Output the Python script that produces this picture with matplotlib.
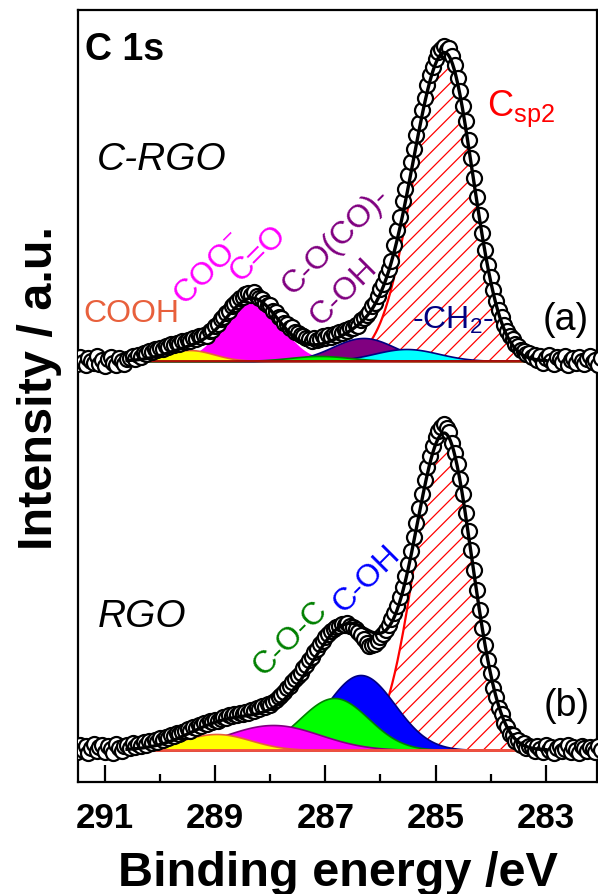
import numpy as np
import matplotlib
matplotlib.use('Agg')
import matplotlib.pyplot as plt

plt.rcParams['font.family'] = ['Liberation Sans', 'DejaVu Sans']
plt.rcParams['mathtext.fontset'] = 'custom'
plt.rcParams['mathtext.rm'] = 'Liberation Sans'
plt.rcParams['mathtext.it'] = 'Liberation Sans:italic'
plt.rcParams['mathtext.bf'] = 'Liberation Sans:bold'
plt.rcParams['hatch.linewidth'] = 0.9

# measured C 1s spectra, 0.05 eV steps starting at 291.55 eV (a.u., above each baseline)
be_start, be_step = 291.55, 0.05
top_counts = [2, -3, 4, -1, -4, 3, 0, -2, 5, -3, 1, -5, 2, 4, -2, -4, 3, 0, -3, 2,
              3, 5, 2, 6, 4, 8, 7, 10, 9, 12, 11, 13, 12, 15, 14, 17, 16, 18, 17, 20,
              19, 21, 20, 23, 22, 25, 24, 26, 25, 30, 31, 35, 37, 42, 44, 48, 50, 55, 57, 60,
              63, 64, 67, 68, 66, 69, 65, 63, 62, 58, 56, 56, 50, 49, 44, 43, 38, 37, 33, 34,
              29, 28, 26, 25, 23, 22, 20, 23, 21, 22, 25, 23, 26, 24, 27, 26, 29, 28, 31, 30,
              33, 33, 36, 35, 41, 43, 46, 49, 55, 58, 65, 72, 77, 85, 92, 100, 116, 131, 144, 160,
              172, 186, 199, 212, 226, 238, 251, 263, 276, 286, 294, 302, 309, 312, 315, 311, 313, 305, 296, 283,
              270, 255, 240, 221, 203, 183, 164, 146, 128, 111, 96, 84, 71, 60, 51, 44, 36, 30, 25, 22,
              17, 15, 11, 10, 7, 8, 4, 6, 1, 5, -2, 3, 6, 0, -3, 4, 2, -1, 5, -4,
              1, 3, -2, 4, 0, -3, 2, 5, -1, 1, -4, 3]
bot_counts = [3, -2, 5, 0, 4, -3, 2, 6, -1, 3, 5, -2, 4, 1, -3, 6, 2, -1, 4,
              5, 2, 7, 3, 6, 4, 8, 5, 9, 7, 10, 8, 12, 10, 13, 12, 15, 14, 17, 16, 18, 19,
              21, 19, 23, 22, 25, 24, 27, 26, 29, 28, 30, 29, 31, 33, 32, 35, 34, 36, 35, 37,
              36, 38, 37, 40, 39, 42, 41, 44, 43, 46, 45, 48, 50, 53, 55, 58, 62, 64, 68, 71,
              74, 77, 82, 85, 90, 93, 98, 101, 106, 109, 113, 116, 119, 121, 123, 124, 126,
              125, 127, 124, 123, 121, 118,
              115, 111, 107, 104, 105, 106, 109, 113, 116, 120, 125,
              131, 137, 144, 153, 163, 174, 186, 199, 213, 227, 242, 256, 270, 283, 294, 304, 313, 319, 323,
              326, 322, 318,
              307, 297, 286, 271, 256, 237, 219, 200, 180, 160, 140, 122, 105, 90, 77, 62, 53, 42, 36, 27,
              23, 16, 15, 9, 10, 5, 7, 2, 4,
              3, -1, 4, 1, -2, 5, 0, 3, -3, 2, 4, -1, 1, 5, -2, 3, 0, -3, 4, 2, -1, 3, 1, -2, 4, 0]

# fitted components: centre (eV), height (a.u.), FWHM on the high / low BE side (eV)
# (a) COOH, COO-/C=O, C-O-C, C-O(CO)/C-OH, -CH2-, Csp2
top_center = [289.47, 288.33, 287.10, 286.31, 285.53, 284.82]
top_height = [11, 62, 5, 23, 12, 302]
top_fwhm_hi = [1.05, 1.16, 1.30, 1.32, 1.37, 1.37]
top_fwhm_lo = [1.05, 1.16, 1.30, 1.32, 1.37, 1.18]
top_base = 421

# (b) COOH, COO-/C=O, C-O-C, C-OH, Csp2
bot_center = [288.98, 287.95, 286.84, 286.36, 284.83]
bot_height = [16, 25, 52, 75, 313]
bot_fwhm_hi = [1.46, 2.00, 1.46, 1.46, 1.28]
bot_fwhm_lo = [1.46, 2.00, 1.46, 1.46, 1.16]
bot_base = 32

fit_hi, fit_lo = 290.6, 283.0


def peak(x, c, h, w_hi, w_lo):
    s = np.where(x >= c, w_hi, w_lo) / 2.3548
    return h * np.exp(-(x - c) ** 2 / (2 * s ** 2))


def envelope(x, cen, hei, w_hi, w_lo):
    y = np.zeros_like(x)
    for c, h, a, b in zip(cen, hei, w_hi, w_lo):
        y += peak(x, c, h, a, b)
    return y


fig = plt.figure(figsize=(5.98, 8.95), dpi=100)
ax = fig.add_axes([78 / 598, 1 - 783 / 895, 519 / 598, 772 / 895])

xf = np.linspace(fit_lo, fit_hi, 800)


def draw_sp2(base, c, h, a, b):
    g = peak(xf, c, h, a, b)
    ax.fill_between(xf, base, base + g, facecolor='white', edgecolor='red',
                    hatch='//', lw=0, zorder=1)
    ax.plot(xf, base + g, color='red', lw=1.6, zorder=1.1)


def draw_comp(base, c, h, a, b, fc, ec, z):
    g = peak(xf, c, h, a, b)
    ax.fill_between(xf, base, base + g, facecolor=fc, edgecolor=ec, lw=1.2, zorder=z)


# (a) C-RGO
draw_sp2(top_base, top_center[5], top_height[5], top_fwhm_hi[5], top_fwhm_lo[5])
top_fc = ['#FFFF00', '#FF00FF', '#00FF00', '#800080', '#00FFFF']
top_ec = ['#E8603C', '#FF00FF', '#008000', '#000080', '#000080']
top_z = [2.5, 2.0, 2.4, 2.1, 2.2]
for i in range(5):
    draw_comp(top_base, top_center[i], top_height[i], top_fwhm_hi[i], top_fwhm_lo[i],
              top_fc[i], top_ec[i], top_z[i])
ax.hlines(top_base, fit_lo, fit_hi, color='#A00000', lw=1.2, zorder=2.6)

# (b) RGO
draw_sp2(bot_base, bot_center[4], bot_height[4], bot_fwhm_hi[4], bot_fwhm_lo[4])
bot_fc = ['#FFFF00', '#FF00FF', '#00FF00', '#0000FF']
bot_ec = ['#E8603C', '#800080', '#008000', '#000080']
bot_z = [2.4, 2.3, 2.2, 2.1]
for i in range(4):
    draw_comp(bot_base, bot_center[i], bot_height[i], bot_fwhm_hi[i], bot_fwhm_lo[i],
              bot_fc[i], bot_ec[i], bot_z[i])
ax.hlines(bot_base, fit_lo, fit_hi, color='#F05040', lw=2, zorder=2.6)

# measured points + fit envelope
for counts, base, cen, hei, a, b in [
        (top_counts, top_base, top_center, top_height, top_fwhm_hi, top_fwhm_lo),
        (bot_counts, bot_base, bot_center, bot_height, bot_fwhm_hi, bot_fwhm_lo)]:
    be = be_start - be_step * np.arange(len(counts))
    ax.plot(be, base + np.array(counts), 'o', ms=10.8, mfc='white', mec='black',
            mew=1.6, zorder=3)
    ax.plot(xf, base + envelope(xf, cen, hei, a, b), color='black', lw=2.4, zorder=4)

ax.set_xlim(291.49, 282.07)
ax.set_ylim(0, 772)
ax.set_yticks([])
ax.set_xticks([291, 289, 287, 285, 283])
ax.set_xticks([290, 288, 286, 284], minor=True)
ax.tick_params(axis='x', which='major', direction='in', length=12, width=1.6,
               labelsize=25, pad=14)
ax.tick_params(axis='x', which='minor', direction='in', length=6, width=1.6)
for lab in ax.get_xticklabels():
    lab.set_fontweight('bold')
for sp in ax.spines.values():
    sp.set_linewidth(1.6)

ax.set_xlabel('Binding energy /eV', fontsize=35, fontweight='bold', labelpad=11)
fig.text(40 / 598, 1 - 388 / 895, 'Intensity / a.u.', rotation=90, fontsize=35,
         fontweight='bold', ha='center', va='center')

# annotations
ax.text(291.36, 733, 'C 1s', fontsize=27, fontweight='bold', va='center')
ax.text(291.145, 623, 'C-RGO', fontsize=28, style='italic', va='center')
ax.text(291.13, 166, 'RGO', fontsize=28, style='italic', va='center')
ax.text(283.05, 463, '(a)', fontsize=27, va='center')
ax.text(283.04, 77, '(b)', fontsize=27, va='center')
ax.text(284.06, 674, r'C$_{\mathrm{sp2}}$', fontsize=26, color='red', va='center')
ax.text(285.42, 463, r'-CH$_2$-', fontsize=23, color='#000080', va='center')
ax.text(291.4, 469, 'COOH', fontsize=23, color='#E8603C', va='center')
rot = dict(rotation=45, rotation_mode='anchor', ha='left', va='baseline', fontsize=23)
ax.text(289.56, 476, r'COO$^{-}$', color='#FF00FF', **rot)
ax.text(288.55, 500, 'C=O', color='#FF00FF', **rot)
ax.text(287.60, 487, 'C-O(CO)-', color='#800080', **rot)
ax.text(287.09, 456, 'C-OH', color='#800080', **rot)
ax.text(288.12, 106, 'C-O-C', color='#008000', **rot)
ax.text(286.67, 169, 'C-OH', color='#0000FF', **rot)

fig.savefig('out.png', dpi=100)
